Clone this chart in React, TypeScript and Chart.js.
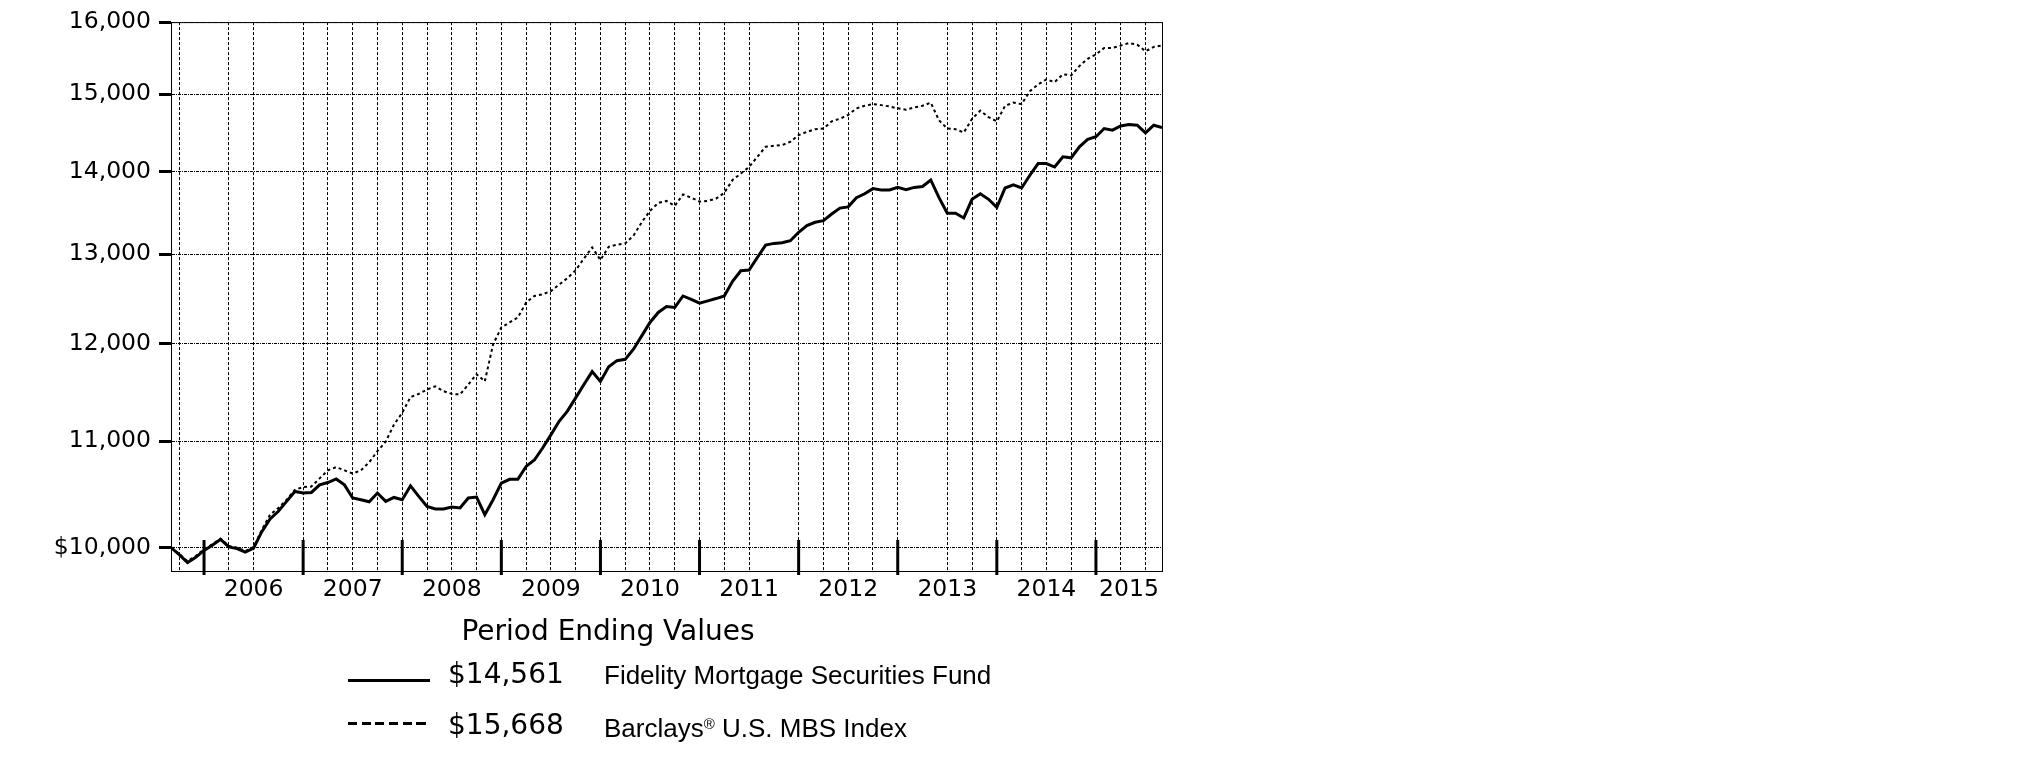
import React, { useEffect, useRef } from 'react';
import { Chart, registerables } from 'chart.js';

Chart.register(...registerables);

// Monthly values, Aug 2005 (index 0) to Aug 2015 (index 120), growth of $10,000
const FUND_VALUES = [
  10000, 9938, 9867, 9913, 9975, 10021, 10074, 10006, 9991, 9959,
  9996, 10144, 10259, 10330, 10422, 10515, 10500, 10506, 10577, 10599,
  10633, 10577, 10454, 10438, 10419, 10500, 10422, 10459, 10438, 10568,
  10469, 10376, 10352, 10352, 10370, 10361, 10454, 10463, 10299, 10438,
  10593, 10630, 10630, 10753, 10815, 10932, 11061, 11196, 11298, 11433,
  11570, 11705, 11603, 11756, 11820, 11834, 11942, 12085, 12231, 12341,
  12407, 12396, 12524, 12487, 12443, 12469, 12495, 12524, 12689, 12810,
  12817, 12963, 13107, 13127, 13135, 13158, 13258, 13337, 13377, 13396,
  13476, 13548, 13563, 13675, 13723, 13786, 13770, 13770, 13801, 13774,
  13801, 13813, 13893, 13675, 13485, 13485, 13429, 13655, 13723, 13655,
  13556, 13794, 13833, 13794, 13952, 14099, 14099, 14055, 14183, 14171,
  14312, 14406, 14440, 14547, 14526, 14581, 14599, 14590, 14491, 14590,
  14561,
];

const INDEX_VALUES = [
  10000, 9945, 9880, 9925, 9985, 10030, 10080, 10015, 10000, 9970,
  10005, 10160, 10299, 10361, 10438, 10531, 10556, 10561, 10639, 10716,
  10746, 10716, 10685, 10716, 10793, 10901, 10994, 11163, 11281, 11441,
  11474, 11519, 11552, 11502, 11474, 11468, 11570, 11678, 11603, 11993,
  12176, 12231, 12286, 12451, 12524, 12542, 12579, 12652, 12725, 12816,
  12950, 13080, 12934, 13087, 13111, 13127, 13218, 13377, 13515, 13610,
  13635, 13575, 13714, 13675, 13627, 13635, 13663, 13735, 13893, 13973,
  14055, 14183, 14312, 14324, 14333, 14376, 14462, 14504, 14538, 14547,
  14641, 14675, 14726, 14812, 14846, 14868, 14855, 14837, 14812, 14795,
  14825, 14846, 14888, 14654, 14547, 14538, 14496, 14675, 14782, 14696,
  14641, 14846, 14888, 14868, 15041, 15133, 15201, 15164, 15270, 15256,
  15384, 15484, 15544, 15634, 15634, 15667, 15703, 15681, 15589, 15648,
  15668,
];

const Y_TICKS = [10000, 11000, 12000, 13000, 14000, 15000, 16000];
const Y_MIN = 9793;
const Y_MAX = 16000;

const YEAR_LABELS = ['2006', '2007', '2008', '2009', '2010', '2011', '2012', '2013', '2014', '2015'];
const YEAR_LABEL_POS = [10, 22, 34, 46, 58, 70, 82, 94, 106, 116];
const YEAR_BOUNDARIES = [4, 16, 28, 40, 52, 64, 76, 88, 100, 112];
const GRID_POS = [1, 7, 10, 16, 19, 22, 25, 28, 31, 34, 37, 40, 43, 46, 49, 52, 55, 58, 61, 64, 67, 70,
  76, 79, 82, 85, 88, 94, 97, 100, 103, 106, 109, 112, 115, 118];

const LEGEND_TITLE = 'Period Ending Values';
const LEGEND_VALUES = ['$14,561', '$15,668'];
const SERIES_NAMES = ['Fidelity Mortgage Securities Fund', 'Barclays'];

const TICK_POS = Array.from(new Set([...GRID_POS, ...YEAR_LABEL_POS])).sort((a, b) => a - b);

const framePlugin = {
  id: 'frame',
  afterDraw(chart: any) {
    const { ctx, chartArea: a, scales } = chart;
    const x = scales.x;
    ctx.save();
    ctx.strokeStyle = '#000';
    ctx.lineWidth = 1;
    ctx.strokeRect(a.left + 0.5, a.top + 0.5, a.right - a.left, a.bottom - a.top);
    ctx.lineWidth = 3;
    YEAR_BOUNDARIES.forEach((v) => {
      const px = x.getPixelForValue(v);
      ctx.beginPath();
      ctx.moveTo(px, a.bottom - 31);
      ctx.lineTo(px, a.bottom + 4);
      ctx.stroke();
    });
    ctx.restore();
  },
};

export default function App() {
  const canvasRef = useRef<HTMLCanvasElement | null>(null);

  useEffect(() => {
    if (!canvasRef.current) return;
    const chart = new Chart(canvasRef.current, {
      type: 'line',
      data: {
        datasets: [
          {
            label: SERIES_NAMES[0],
            data: FUND_VALUES.map((v, i) => ({ x: i, y: v })),
            borderColor: '#000',
            borderWidth: 3,
            pointRadius: 0,
            tension: 0,
            fill: false,
          },
          {
            label: SERIES_NAMES[1],
            data: INDEX_VALUES.map((v, i) => ({ x: i, y: v })),
            borderColor: '#000',
            borderWidth: 2,
            borderDash: [3, 3],
            pointRadius: 0,
            tension: 0,
            fill: false,
          },
        ],
      },
      options: {
        animation: false,
        responsive: false,
        layout: { padding: { left: 0, top: 15, right: 138, bottom: 149 } },
        plugins: { legend: { display: false }, tooltip: { enabled: false } },
        scales: {
          x: {
            type: 'linear',
            min: 0,
            max: 120,
            position: 'bottom',
            afterBuildTicks: (s: any) => {
              s.ticks = TICK_POS.map((v) => ({ value: v }));
            },
            afterFit: (s: any) => {
              s.height = 40;
            },
            grid: {
              color: (c: any) => (c.tick && GRID_POS.includes(c.tick.value) ? '#000' : 'rgba(0,0,0,0)'),
              lineWidth: 1,
              drawTicks: false,
            },
            border: { display: true, color: '#000', width: 1, dash: [3, 2] },
            ticks: {
              autoSkip: false,
              maxRotation: 0,
              minRotation: 0,
              padding: 5,
              color: '#000',
              font: { family: 'DejaVu Sans', size: 23.5 },
              callback: (v: any) => {
                const k = YEAR_LABEL_POS.indexOf(Number(v));
                return k >= 0 ? YEAR_LABELS[k] : '';
              },
            },
          },
          y: {
            type: 'logarithmic',
            min: Y_MIN,
            max: Y_MAX,
            afterBuildTicks: (s: any) => {
              s.ticks = Y_TICKS.map((v) => ({ value: v }));
            },
            afterFit: (s: any) => {
              s.width = 171;
            },
            grid: { color: '#000', lineWidth: 1, tickLength: 12, tickWidth: 3, tickColor: '#000' },
            border: { display: true, color: '#000', width: 1, dash: [3, 1, 1, 1] },
            ticks: {
              padding: 8,
              color: '#000',
              font: { family: 'DejaVu Sans', size: 23.5 },
              callback: (v: any) =>
                Number(v) === 10000 ? '$10,000' : Number(v).toLocaleString('en-US'),
            },
          },
        },
      },
      plugins: [framePlugin],
    } as any);
    return () => chart.destroy();
  }, []);

  const valStyle: React.CSSProperties = {
    position: 'absolute',
    left: 448,
    fontFamily: 'DejaVu Sans',
    fontSize: 28,
    lineHeight: '28px',
    color: '#000',
    whiteSpace: 'nowrap',
  };
  const nameStyle: React.CSSProperties = {
    position: 'absolute',
    left: 604,
    fontFamily: 'Liberation Sans, Arial, sans-serif',
    fontSize: 26,
    lineHeight: '26px',
    color: '#000',
    whiteSpace: 'nowrap',
  };

  return (
    <div style={{ position: 'absolute', left: 0, top: 0, width: 1300, height: 760 }}>
      <canvas ref={canvasRef} width={1300} height={760} style={{ position: 'absolute', left: 0, top: 0, width: 1300, height: 760 }} />
      <div
        style={{
          position: 'absolute',
          left: 458,
          top: 617,
          width: 300,
          textAlign: 'center',
          fontFamily: 'DejaVu Sans',
          fontSize: 28,
          lineHeight: '28px',
          whiteSpace: 'nowrap',
          color: '#000',
        }}
      >
        {LEGEND_TITLE}
      </div>
      <div style={{ position: 'absolute', left: 348, top: 679, width: 82, height: 3, background: '#000' }} />
      <div style={{ ...valStyle, top: 660 }}>{LEGEND_VALUES[0]}</div>
      <div style={{ ...nameStyle, top: 662 }}>{SERIES_NAMES[0]}</div>
      <div
        style={{
          position: 'absolute',
          left: 348,
          top: 722,
          width: 78,
          height: 3,
          background: 'repeating-linear-gradient(to right, #000 0px, #000 9px, transparent 9px, transparent 13.7px)',
        }}
      />
      <div style={{ ...valStyle, top: 711 }}>{LEGEND_VALUES[1]}</div>
      <div style={{ ...nameStyle, top: 715 }}>
        {SERIES_NAMES[1]}
        <span style={{ fontSize: 15, position: 'relative', top: -8 }}>®</span> U.S. MBS Index
      </div>
    </div>
  );
}
